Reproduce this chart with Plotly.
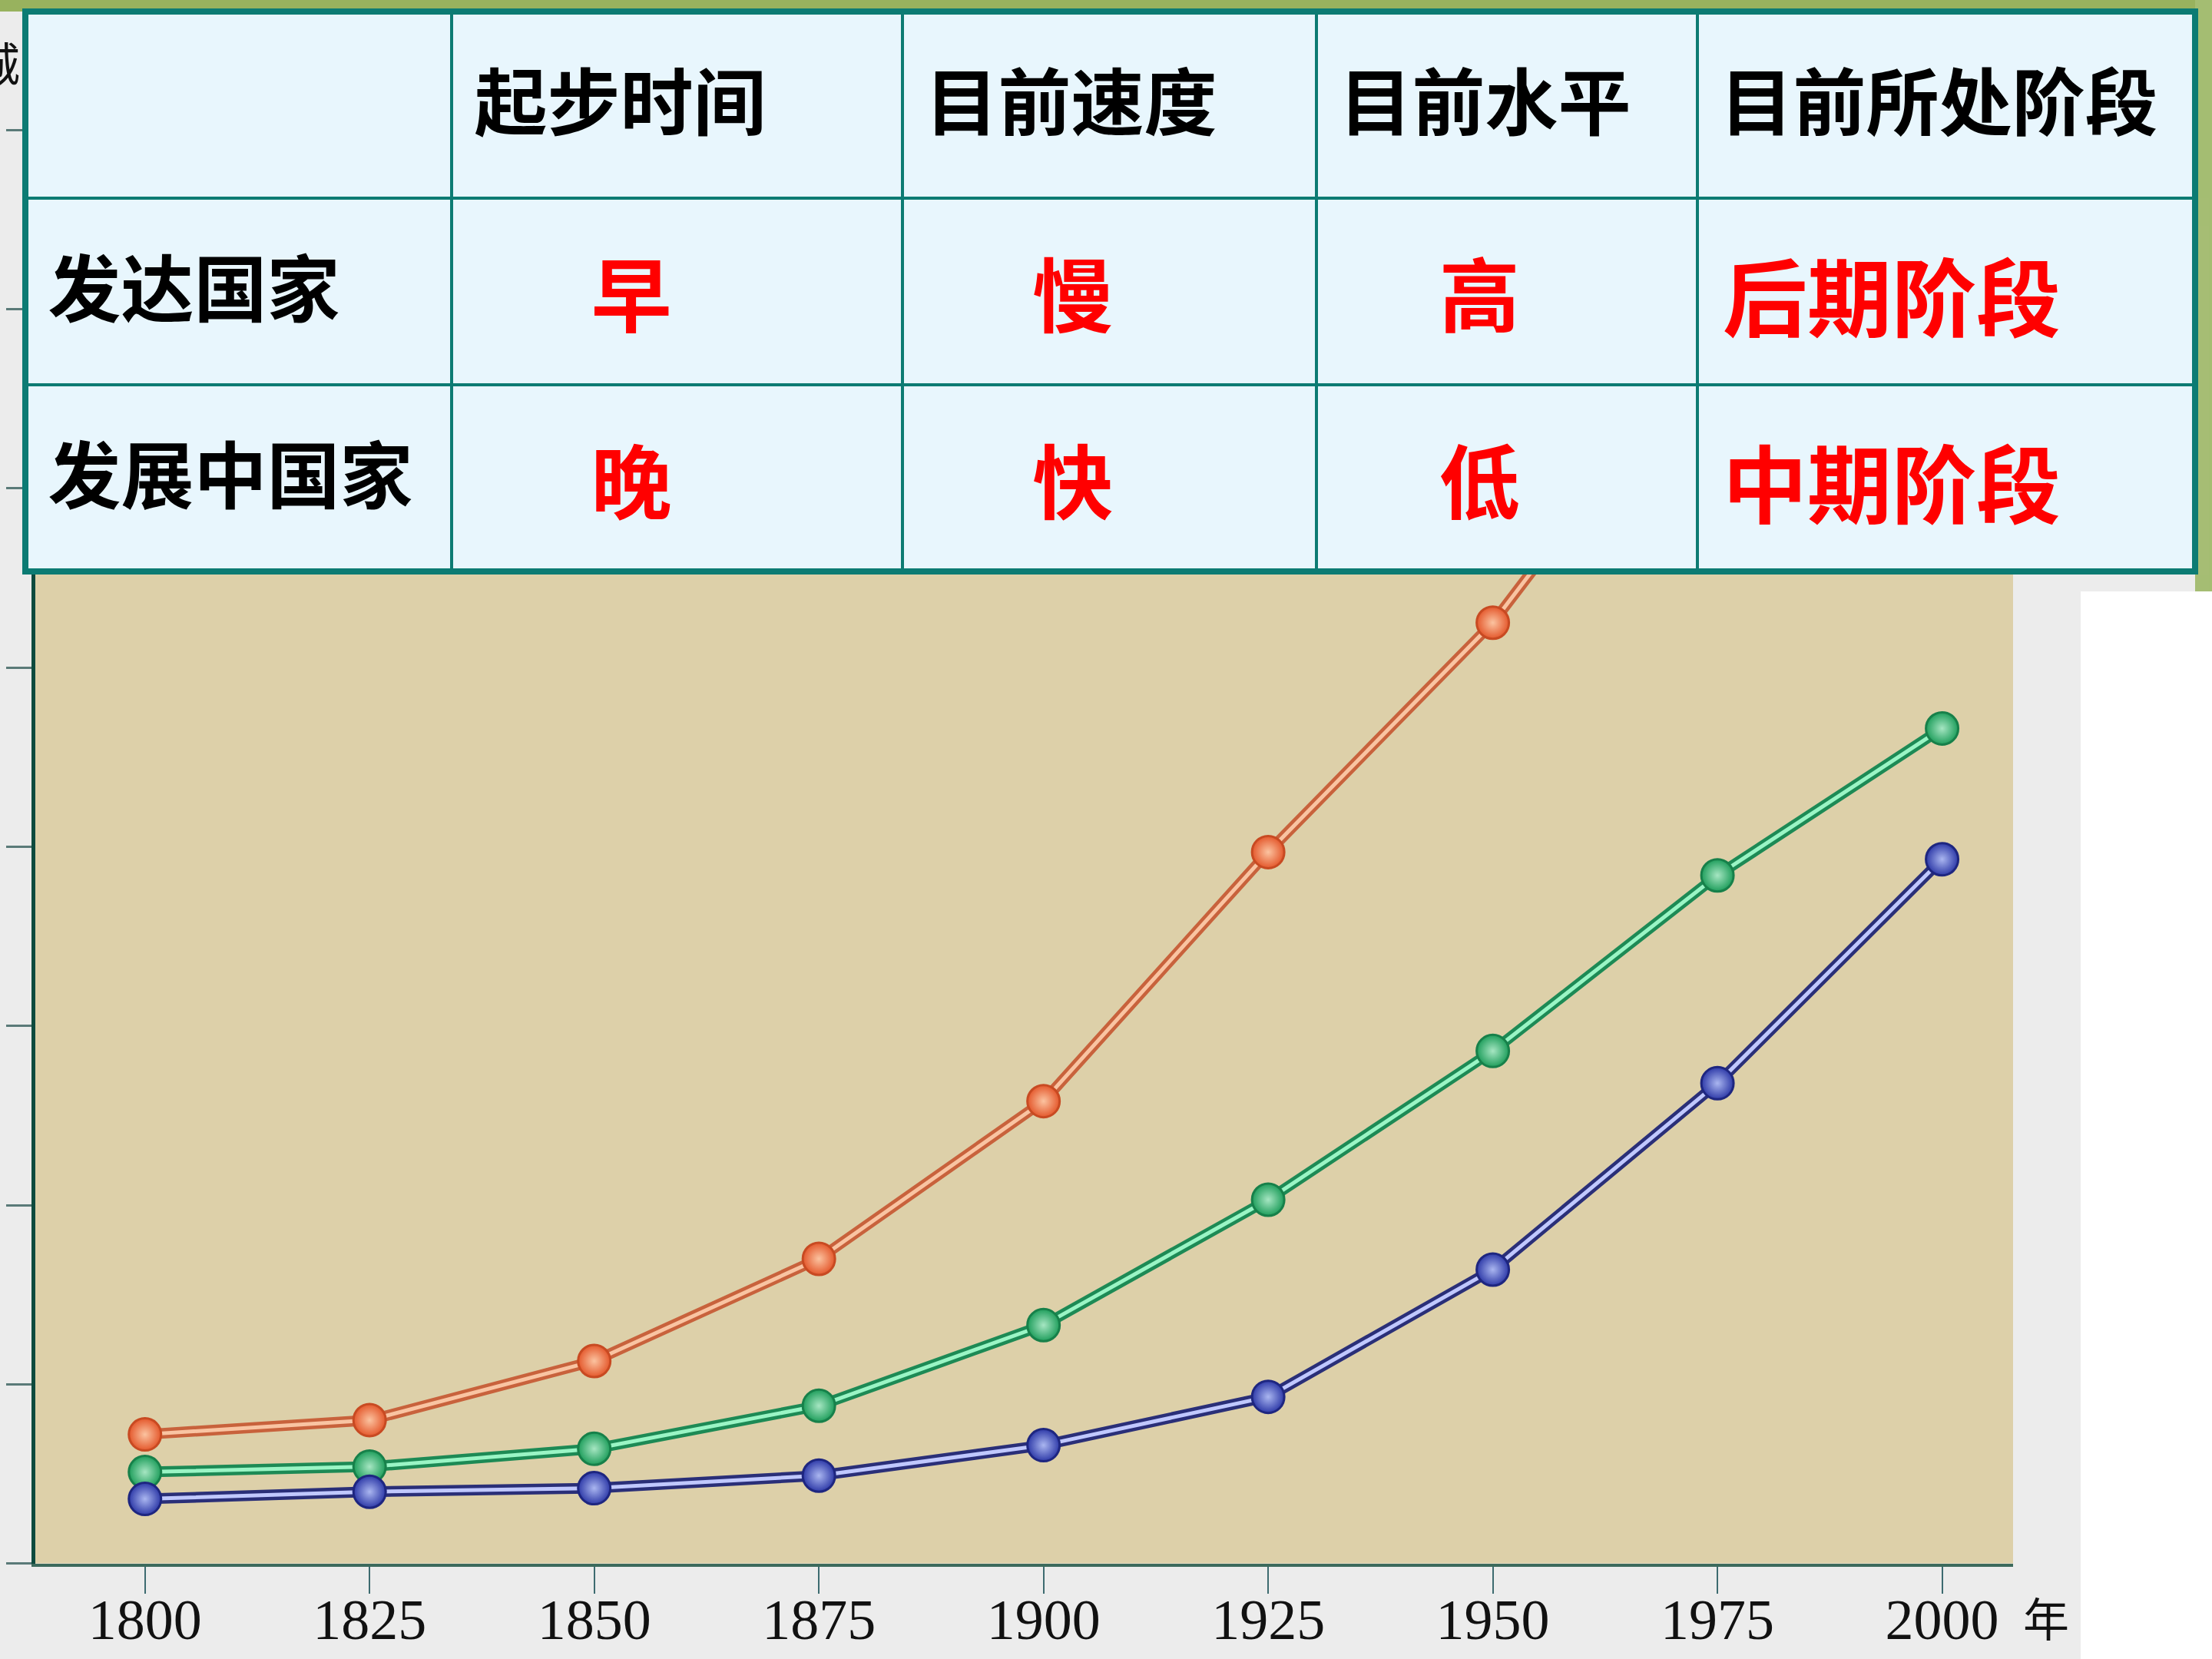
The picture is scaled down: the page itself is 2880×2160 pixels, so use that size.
import plotly.graph_objects as go

# ---------------- data ----------------
YEARS = [1800, 1825, 1850, 1875, 1900, 1925, 1950, 1975, 2000]
YEAR_LABELS = ["1800", "1825", "1850", "1875", "1900", "1925", "1950", "1975", "2000"]
DEVELOPED = [7.2, 8.0, 11.3, 17.0, 25.8, 39.7, 52.5, 69.0, 76.0]   # 发达国家 (orange)
WORLD = [5.1, 5.4, 6.4, 8.8, 13.3, 20.3, 28.6, 38.4, 46.6]         # 世界 (green)
DEVELOPING = [3.6, 4.0, 4.2, 4.9, 6.6, 9.3, 16.4, 26.8, 39.3]      # 发展中国家 (blue)
Y_TICKS = [0, 10, 20, 30, 40, 50, 60, 70, 80]

TABLE_HEADER = ["", "起步时间", "目前速度", "目前水平", "目前所处阶段"]
ROW_NAMES = ["发达国家", "发展中国家"]
START_TIME = ["早", "晚"]
SPEED = ["慢", "快"]
LEVEL = ["高", "低"]
STAGE = ["后期阶段", "中期阶段"]

# ---------------- layout helpers (pixels of the 2880x2160 page) ----------------
W, H = 2880, 2160
PLOT_L, PLOT_R, PLOT_T, PLOT_B = 46, 2621, 15, 2035.6
TBL_L, TBL_R, TBL_T, TBL_B = 33, 2858, 15, 744
TEXT_DROP = 36          # table text sits lower in its cells than plotly's top alignment
COL_W = [555, 587, 539, 496, 648]
ROW_H = 243
NB = "\u00a0"
GRID = "#0c7b73"
CELL_BG = "#e8f6fd"

def px_x(x):
    return x / W

def px_y(y):
    return 1 - y / H

series = [
    (DEVELOPED, "#c8623c", "#f9c4a2", "#e4582c", "#fbc3a0", "#c84a22"),
    (WORLD, "#1d8a55", "#9af5c5", "#1f9e5c", "#a6e6c2", "#17804a"),
    (DEVELOPING, "#2a2f78", "#c0c8ff", "#2e3aa8", "#aab6f0", "#1e2680"),
]

fig = go.Figure()
for vals, dark, light, mcol, mgrad, mline in series:
    fig.add_trace(go.Scatter(x=YEARS, y=vals, mode="lines",
                             line=dict(color=dark, width=14), hoverinfo="skip"))
    fig.add_trace(go.Scatter(x=YEARS, y=vals, mode="lines",
                             line=dict(color=light, width=5), hoverinfo="skip"))
    fig.add_trace(go.Scatter(x=YEARS, y=vals, mode="markers",
                             marker=dict(size=42, color=mcol,
                                         gradient=dict(type="radial", color=mgrad),
                                         line=dict(color=mline, width=3))))

# ---------------- table ----------------
def bold(s, lead=1, trail=0):
    return "<b>" + NB * lead + s + NB * trail + "</b>" if s else ""

header_vals = [bold(h) for h in TABLE_HEADER]
cell_vals = [
    [bold(s) for s in ROW_NAMES],
    [bold(s, 0, 5) for s in START_TIME],
    [bold(s, 0, 4) for s in SPEED],
    [bold(s, 0, 3) for s in LEVEL],
    [bold(s) for s in STAGE],
]
black, red = "#000000", "#ff0000"
cell_colors = [black, red, red, red, red]
cell_sizes = [95, 105, 105, 105, 110]

# grid and cell fills
fig.add_trace(go.Table(
    domain=dict(x=[px_x(TBL_L), px_x(TBL_R)], y=[px_y(TBL_B + 4), px_y(TBL_T)]),
    columnwidth=COL_W,
    header=dict(values=[""] * len(TABLE_HEADER), height=ROW_H,
                fill=dict(color=CELL_BG), line=dict(color=GRID, width=4)),
    cells=dict(values=[[""] * len(ROW_NAMES)] * len(TABLE_HEADER), height=ROW_H,
               fill=dict(color=CELL_BG), line=dict(color=GRID, width=4)),
))
# the same table's texts, dropped a little inside the cells
fig.add_trace(go.Table(
    domain=dict(x=[px_x(TBL_L), px_x(TBL_R)],
                y=[px_y(TBL_B + 4 + TEXT_DROP), px_y(TBL_T + TEXT_DROP)]),
    columnwidth=COL_W,
    header=dict(values=header_vals, height=ROW_H, align="left",
                fill=dict(color="rgba(0,0,0,0)"),
                line=dict(color="rgba(0,0,0,0)", width=0),
                font=dict(family="Noto Sans CJK SC", size=95, color=black)),
    cells=dict(values=cell_vals, height=ROW_H,
               align=["left", "center", "center", "center", "left"],
               fill=dict(color="rgba(0,0,0,0)"),
               line=dict(color="rgba(0,0,0,0)", width=0),
               font=dict(family="Noto Sans CJK SC", size=cell_sizes, color=cell_colors)),
))

shapes = [
    dict(type="rect", xref="paper", yref="paper", x0=px_x(2709), x1=1, y0=0, y1=px_y(770),
         fillcolor="#ffffff", line=dict(width=0), layer="below"),
    dict(type="rect", xref="paper", yref="paper", x0=0, x1=1, y0=px_y(15), y1=1,
         fillcolor="#98b25e", line=dict(width=0), layer="below"),
    dict(type="rect", xref="paper", yref="paper", x0=px_x(2858), x1=1, y0=px_y(770), y1=1,
         fillcolor="#a4bd72", line=dict(width=0), layer="below"),
    dict(type="rect", xref="paper", yref="paper", x0=px_x(TBL_L), x1=px_x(TBL_R),
         y0=px_y(TBL_B), y1=px_y(TBL_T), fillcolor="rgba(0,0,0,0)",
         line=dict(color=GRID, width=8), layer="above"),
]

annotations = [
    dict(text="城", xref="paper", yref="paper", x=px_x(28), y=px_y(80),
         xanchor="right", yanchor="middle", showarrow=False,
         font=dict(family="Noto Sans CJK SC", size=60, color="#111111")),
    dict(text="年", xref="paper", yref="paper", x=px_x(2632), y=px_y(2104),
         xanchor="left", yanchor="middle", showarrow=False,
         font=dict(family="Noto Sans CJK SC", size=60, color="#111111")),
]

fig.update_layout(
    width=W, height=H,
    margin=dict(l=0, r=0, t=0, b=0),
    paper_bgcolor="#ececec",
    plot_bgcolor="#ddd0a9",
    showlegend=False,
    shapes=shapes,
    annotations=annotations,
    xaxis=dict(domain=[px_x(PLOT_L), px_x(PLOT_R)], range=[1787.8, 2007.9],
               automargin=False,
               tickvals=YEARS, ticktext=YEAR_LABELS,
               ticks="outside", ticklen=35, tickwidth=2, tickcolor="#3d6b70",
               ticklabelstandoff=-29,
               showline=True, linecolor="#3c6a5c", linewidth=4,
               showgrid=False, zeroline=False,
               tickfont=dict(family="Liberation Serif", size=74, color="#111111")),
    yaxis=dict(domain=[px_y(PLOT_B), px_y(PLOT_T)],
               range=[0, (PLOT_B - PLOT_T) / 233.3 * 10],
               automargin=False,
               tickvals=Y_TICKS, showticklabels=False,
               ticks="outside", ticklen=33, tickwidth=3, tickcolor="#5a7a78",
               showline=True, linecolor="#0d4a3e", linewidth=5,
               showgrid=False, zeroline=False),
)

fig.write_html("out.html")
